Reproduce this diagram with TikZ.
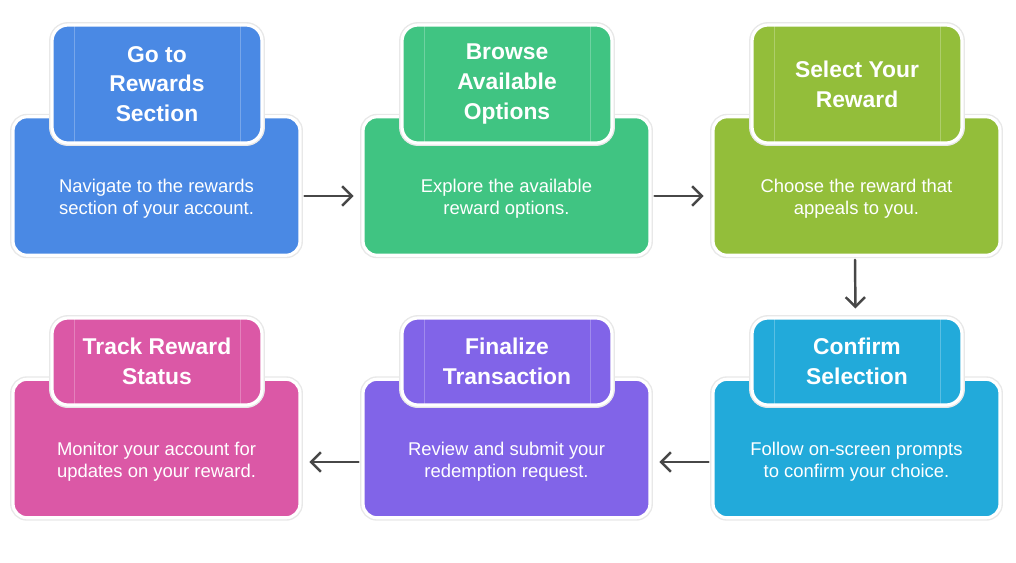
\documentclass[tikz,border=0pt]{standalone}
\usepackage{fontspec}
\setmainfont{Liberation Sans}
\usepackage{tikz}
\usetikzlibrary{arrows.meta,positioning,calc}

\definecolor{cblue}{RGB}{74,137,228}
\definecolor{cgreen}{RGB}{64,196,130}
\definecolor{colive}{RGB}{147,190,58}
\definecolor{ccyan}{RGB}{34,170,218}
\definecolor{cpurple}{RGB}{129,100,232}
\definecolor{cpink}{RGB}{219,88,166}

\begin{document}
\begin{tikzpicture}[x=0.02cm,y=-0.02cm,
>={Straight Barb[length=5.5pt,width=11pt]},semithick]
\tikzstyle{body}=[rectangle,rounded corners=0.28cm,
minimum width=5.74cm, minimum height=2.77cm,
draw=white,line width=1.8pt,
preaction={draw=black!9,line width=3.4pt}]
\tikzstyle{tab}=[rectangle,rounded corners=0.32cm,
minimum width=4.2cm,text=white,align=center,
font=\bfseries\fontsize{13}{17}\selectfont,
draw=white,line width=1.8pt,
preaction={draw=black!9,line width=3.4pt},
path picture={
  \draw[white,opacity=0.25,line width=0.5pt]
  ([xshift=0.44cm]path picture bounding box.north west) --
  ([xshift=0.44cm]path picture bounding box.south west)
  ([xshift=-0.44cm]path picture bounding box.north east) --
  ([xshift=-0.44cm]path picture bounding box.south east);}]
\tikzstyle{desc}=[text=white,align=center,
font=\fontsize{10.5}{12.5}\selectfont]
\tikzstyle{arr}=[->,draw=black!72,line width=1.4pt,line cap=round,
shorten <=1.7pt,shorten >=4.5pt]

\useasboundingbox (0,0) rectangle (1016,562);

%first row
\node[body,fill=cblue] (B1) at (156.5,186) {};
\node[tab,fill=cblue,minimum height=2.36cm] (T1) at (157,84)
  {Go to\\Rewards\\Section};
\node[desc] (D1) at (156.5,199)
  {Navigate to the rewards\\section of your account.};

\node[body,fill=cgreen] (B2) at (506.5,186) {};
\node[tab,fill=cgreen,minimum height=2.36cm] (T2) at (507,84)
  {Browse\\Available\\Options};
\node[desc] (D2) at (506.5,199)
  {Explore the available\\reward options.};

\node[body,fill=colive] (B3) at (856.5,186) {};
\node[tab,fill=colive,minimum height=2.36cm] (T3) at (857,84)
  {Select Your\\Reward};
\node[desc] (D3) at (856.5,199)
  {Choose the reward that\\appeals to you.};

%second row
\node[body,fill=ccyan] (B4) at (856.5,448.5) {};
\node[tab,fill=ccyan,minimum height=1.74cm] (T4) at (857,361.5)
  {Confirm\\Selection};
\node[desc] (D4) at (856.5,462)
  {Follow on-screen prompts\\to confirm your choice.};

\node[body,fill=cpurple] (B5) at (506.5,448.5) {};
\node[tab,fill=cpurple,minimum height=1.74cm] (T5) at (507,361.5)
  {Finalize\\Transaction};
\node[desc] (D5) at (506.5,462)
  {Review and submit your\\redemption request.};

\node[body,fill=cpink] (B6) at (156.5,448.5) {};
\node[tab,fill=cpink,minimum height=1.74cm] (T6) at (157,361.5)
  {Track Reward\\Status};
\node[desc] (D6) at (156.5,462)
  {Monitor your account for\\updates on your reward.};

%connectors
\draw[arr] ([yshift=0.06cm]D1.center -| B1.east) -- ([yshift=0.06cm]D1.center -| B2.west);
\draw[arr] ([yshift=0.06cm]D2.center -| B2.east) -- ([yshift=0.06cm]D2.center -| B3.west);
\draw[arr] ([xshift=-0.03cm]B3.south) -- ([xshift=-0.03cm]T4.north);
\draw[arr] (D4 -| B4.west) -- (D4 -| B5.east);
\draw[arr] (D5 -| B5.west) -- (D5 -| B6.east);

\end{tikzpicture}
\end{document}
